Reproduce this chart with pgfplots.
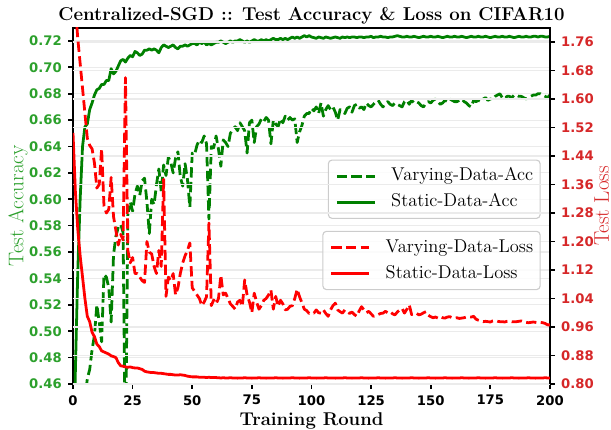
\documentclass[border=0pt]{standalone}
\usepackage{fontspec}
\usepackage{pgfplots}
\usepackage{pgfplotstable}
\pgfplotsset{compat=1.18}
\newfontfamily\tickfont{DejaVu Sans}
\definecolor{tabgreen}{HTML}{2CA02C}
\definecolor{tabred}{HTML}{D62728}
\definecolor{mgreen}{HTML}{008000}
\definecolor{mred}{HTML}{FF0000}

\pgfplotstableread{
t sa va sl vl
0 0.380 0.300 1.505 2.050
1 0.470 0.340 1.340 1.860
2 0.545 0.380 1.235 1.770
3 0.600 0.410 1.160 1.700
4 0.640 0.430 1.100 1.630
5 0.655 0.448 1.040 1.560
6 0.657 0.464 0.990 1.490
7 0.668 0.471 0.975 1.470
8 0.673 0.486 0.945 1.460
9 0.679 0.497 0.933 1.420
10 0.683 0.520 0.912 1.350
11 0.684 0.507 0.905 1.360
12 0.687 0.492 0.893 1.460
13 0.687 0.543 0.890 1.300
14 0.690 0.541 0.887 1.280
15 0.690 0.533 0.884 1.290
16 0.699 0.507 0.879 1.380
17 0.695 0.558 0.877 1.270
18 0.697 0.572 0.874 1.230
19 0.701 0.579 0.860 1.190
20 0.705 0.581 0.851 1.220
21 0.706 0.575 0.850 1.205
22 0.704 0.400 0.848 1.660
23 0.707 0.588 0.847 1.175
24 0.709 0.598 0.848 1.140
25 0.708 0.591 0.846 1.155
26 0.712 0.604 0.845 1.110
27 0.711 0.610 0.845 1.110
28 0.709 0.603 0.843 1.100
29 0.710 0.614 0.841 1.090
30 0.713 0.616 0.836 1.085
31 0.713 0.598 0.834 1.200
32 0.714 0.574 0.833 1.170
33 0.713 0.600 0.832 1.165
34 0.714 0.596 0.832 1.130
35 0.713 0.611 0.831 1.110
36 0.711 0.623 0.830 1.175
37 0.715 0.606 0.830 1.130
38 0.717 0.626 0.829 1.375
39 0.716 0.618 0.828 1.046
40 0.715 0.632 0.827 1.100
41 0.716 0.628 0.827 1.090
42 0.717 0.620 0.826 1.110
43 0.715 0.631 0.825 1.050
44 0.714 0.636 0.825 1.070
45 0.716 0.617 0.826 1.110
46 0.716 0.610 0.825 1.140
47 0.717 0.627 0.824 1.160
48 0.716 0.615 0.822 1.175
49 0.717 0.594 0.821 1.196
50 0.718 0.635 0.820 1.070
51 0.718 0.634 0.820 1.060
52 0.717 0.641 0.820 1.050
53 0.719 0.645 0.819 1.040
54 0.718 0.643 0.819 1.020
55 0.719 0.648 0.819 1.030
56 0.717 0.642 0.818 1.045
57 0.718 0.585 0.819 1.252
58 0.717 0.640 0.818 1.020
59 0.718 0.639 0.818 1.036
60 0.719 0.648 0.818 1.025
61 0.719 0.638 0.8175 1.040
62 0.720 0.625 0.817 1.105
63 0.719 0.645 0.8175 1.050
64 0.718 0.643 0.817 1.055
65 0.719 0.640 0.817 1.040
66 0.720 0.650 0.8175 1.025
67 0.719 0.653 0.817 1.018
68 0.720 0.655 0.817 1.010
69 0.720 0.652 0.8165 1.030
70 0.721 0.658 0.817 1.035
71 0.720 0.655 0.817 1.018
72 0.719 0.652 0.8175 1.092
73 0.720 0.635 0.817 1.050
74 0.719 0.658 0.817 1.030
75 0.720 0.660 0.8165 1.000
76 0.721 0.643 0.817 1.055
77 0.720 0.655 0.817 1.030
78 0.720 0.657 0.8175 1.010
79 0.721 0.661 0.817 1.020
80 0.720 0.659 0.817 1.035
81 0.721 0.662 0.8165 1.040
82 0.720 0.660 0.817 1.050
83 0.721 0.642 0.817 1.064
84 0.722 0.660 0.817 1.010
85 0.721 0.657 0.8175 1.046
86 0.721 0.655 0.817 1.018
87 0.722 0.661 0.817 1.035
88 0.721 0.658 0.8165 1.025
89 0.722 0.663 0.817 1.008
90 0.721 0.660 0.817 1.010
91 0.722 0.662 0.817 1.018
92 0.723 0.660 0.8175 1.020
93 0.722 0.661 0.817 1.040
94 0.723 0.643 0.817 1.066
95 0.722 0.651 0.8165 1.045
96 0.723 0.656 0.817 1.028
97 0.724 0.663 0.817 1.010
98 0.723 0.665 0.817 1.006
99 0.724 0.665 0.8175 0.998
100 0.723 0.669 0.817 1.000
101 0.7225 0.667 0.817 0.999
102 0.722 0.670 0.8165 1.008
103 0.723 0.665 0.817 1.000
104 0.7225 0.673 0.817 0.999
105 0.722 0.663 0.817 1.008
106 0.723 0.668 0.8175 0.998
107 0.7225 0.671 0.817 0.990
108 0.722 0.668 0.817 1.008
109 0.7225 0.670 0.817 1.020
110 0.723 0.666 0.8165 1.027
111 0.7225 0.660 0.817 1.008
112 0.722 0.668 0.817 1.003
113 0.723 0.667 0.817 0.999
114 0.7225 0.665 0.8175 1.008
115 0.723 0.669 0.817 1.004
116 0.7225 0.670 0.817 0.998
117 0.723 0.666 0.8165 1.002
118 0.723 0.671 0.817 0.995
119 0.7225 0.672 0.817 0.990
120 0.723 0.669 0.817 1.005
121 0.723 0.670 0.8175 1.017
122 0.7225 0.668 0.817 1.008
123 0.723 0.673 0.817 1.000
124 0.723 0.671 0.8165 1.004
125 0.7235 0.670 0.817 0.997
126 0.7225 0.672 0.817 0.990
127 0.723 0.674 0.817 0.993
128 0.723 0.675 0.8175 0.995
129 0.7235 0.672 0.817 0.998
130 0.723 0.670 0.817 0.999
131 0.723 0.673 0.8165 1.004
132 0.7225 0.674 0.817 1.000
133 0.723 0.672 0.817 1.003
134 0.723 0.671 0.817 0.997
135 0.7235 0.673 0.8175 0.994
136 0.724 0.672 0.817 1.002
137 0.7235 0.671 0.817 1.008
138 0.723 0.670 0.8165 1.012
139 0.723 0.674 0.817 0.999
140 0.7235 0.675 0.817 1.010
141 0.723 0.672 0.817 1.022
142 0.723 0.675 0.8175 0.995
143 0.7235 0.673 0.817 0.998
144 0.723 0.674 0.817 0.999
145 0.7225 0.673 0.8165 0.994
146 0.723 0.671 0.817 0.996
147 0.7235 0.670 0.817 1.000
148 0.723 0.673 0.817 1.003
149 0.723 0.674 0.8175 0.993
150 0.7235 0.673 0.817 0.989
151 0.723 0.675 0.817 0.986
152 0.723 0.676 0.8165 0.988
153 0.7235 0.674 0.817 0.985
154 0.723 0.672 0.817 0.989
155 0.7225 0.673 0.817 0.986
156 0.723 0.675 0.8175 0.985
157 0.7235 0.674 0.817 0.988
158 0.723 0.676 0.817 0.989
159 0.723 0.675 0.8165 0.986
160 0.7235 0.674 0.817 0.985
161 0.723 0.674 0.817 0.986
162 0.723 0.675 0.817 0.984
163 0.7235 0.676 0.8175 0.985
164 0.723 0.674 0.817 0.986
165 0.7225 0.673 0.817 0.988
166 0.723 0.671 0.8165 0.989
167 0.7235 0.670 0.817 0.988
168 0.723 0.675 0.817 0.990
169 0.723 0.674 0.817 0.982
170 0.7235 0.675 0.8175 0.979
171 0.723 0.674 0.817 0.977
172 0.723 0.676 0.817 0.975
173 0.7235 0.677 0.8165 0.976
174 0.723 0.675 0.817 0.975
175 0.7225 0.676 0.817 0.974
176 0.723 0.676 0.817 0.977
177 0.7235 0.678 0.8175 0.978
178 0.723 0.679 0.817 0.976
179 0.723 0.680 0.817 0.975
180 0.7235 0.677 0.8165 0.975
181 0.723 0.676 0.817 0.974
182 0.723 0.678 0.817 0.976
183 0.7235 0.678 0.817 0.977
184 0.723 0.677 0.8175 0.975
185 0.7225 0.679 0.817 0.975
186 0.723 0.679 0.817 0.975
187 0.7235 0.678 0.8165 0.976
188 0.723 0.678 0.817 0.977
189 0.723 0.677 0.817 0.975
190 0.7235 0.676 0.817 0.973
191 0.723 0.677 0.8175 0.972
192 0.723 0.678 0.817 0.973
193 0.7235 0.679 0.817 0.974
194 0.7235 0.679 0.8165 0.973
195 0.723 0.680 0.817 0.972
196 0.7235 0.680 0.817 0.973
197 0.7235 0.679 0.817 0.972
198 0.723 0.678 0.8175 0.970
199 0.723 0.677 0.817 0.966
200 0.7235 0.679 0.817 0.966
}\datatab

\pgfplotsset{
  common/.style={
    scale only axis, width=343.4pt, height=256.5pt,
    xmin=0, xmax=200,
    axis line style={line width=1.5pt, black},
    tick align=outside,
    major tick length=3.5pt,
    major tick style={line width=1.2pt, black},
    ymajorgrids,
    grid style={black!8, line width=0.8pt},
    /pgf/number format/assume math mode=true,
    ticklabel style={font=\tickfont\bfseries\fontsize{9.5}{11}\selectfont},
    every axis title shift=0pt,
    legend cell align=left,
    legend image code/.code={\draw[##1] (0pt,0pt) -- (27.4pt,0pt);},
    legend style={
      draw=black!20, line width=0.8pt, rounded corners=2.5pt,
      fill=white, fill opacity=0.8, text opacity=1,
      font=\fontsize{13.3}{16}\selectfont,
      nodes={inner sep=0pt, text height=9.3pt, text depth=2.6pt},
      inner xsep=5pt, inner ysep=5.6pt,
      column sep=10.8pt, row sep=6.9pt,
      anchor=north east,
    },
  }
}

\begin{document}
\begin{tikzpicture}
\useasboundingbox (-52.56pt,-32.4pt) rectangle (387.36pt,276.48pt);
\begin{axis}[
  common,
  ymin=0.46, ymax=0.73,
  tick pos=left,
  xtick={0,25,50,75,100,125,150,175,200},
  ytick={0.46,0.48,0.50,0.52,0.54,0.56,0.58,0.60,0.62,0.64,0.66,0.68,0.70,0.72},
  yticklabel style={/pgf/number format/fixed, /pgf/number format/fixed zerofill, /pgf/number format/precision=2},
  yticklabel style={color=tabgreen, anchor=east, inner sep=0pt, xshift=-4.4pt},
  xticklabel style={color=black, anchor=north, inner sep=0pt, yshift=-4.4pt},
  ylabel={Test Accuracy},
  ylabel style={at={(axis description cs:-0.1043,0.5)}, anchor=base, inner sep=0pt, color=tabgreen, font=\fontsize{15.3}{18}\selectfont},
  xlabel={Training Round},
  xlabel style={at={(axis description cs:0.5,-0.1177)}, anchor=base, inner sep=0pt, font=\bfseries\fontsize{13.3}{16}\selectfont},
  title={Centralized-SGD :: Test Accuracy \& Loss on CIFAR10},
  title style={at={(axis description cs:0.5,1.0214)}, anchor=base, inner sep=0pt, font=\bfseries\fontsize{13.4}{16}\selectfont},
  legend style={at={(0.9805,0.630)}},
]
\addplot[mgreen, line width=2pt, line join=round, dash pattern=on 7.4pt off 3.2pt] table[x=t,y=va]{\datatab};
\addlegendentry{Varying-Data-Acc}
\addplot[mgreen, line width=2pt, line join=round] table[x=t,y=sa]{\datatab};
\addlegendentry{Static-Data-Acc}
\end{axis}
\begin{axis}[
  common,
  ymin=0.80, ymax=1.80,
  axis x line=none,
  axis y line*=right,
  ytick={0.80,0.88,0.96,1.04,1.12,1.20,1.28,1.36,1.44,1.52,1.60,1.68,1.76},
  yticklabel style={/pgf/number format/fixed, /pgf/number format/fixed zerofill, /pgf/number format/precision=2},
  yticklabel style={color=tabred, anchor=west, inner sep=0pt, xshift=4.4pt},
  ylabel={Test Loss},
  ylabel style={at={(axis description cs:1.1235,0.5)}, anchor=base, inner sep=0pt, color=tabred, font=\fontsize{15.3}{18}\selectfont},
  legend style={at={(0.9805,0.430)}},
]
\addplot[mred, line width=2pt, line join=round, dash pattern=on 7.4pt off 3.2pt] table[x=t,y=vl]{\datatab};
\addlegendentry{Varying-Data-Loss}
\addplot[mred, line width=2pt, line join=round] table[x=t,y=sl]{\datatab};
\addlegendentry{Static-Data-Loss}
\end{axis}
\end{tikzpicture}
\end{document}
